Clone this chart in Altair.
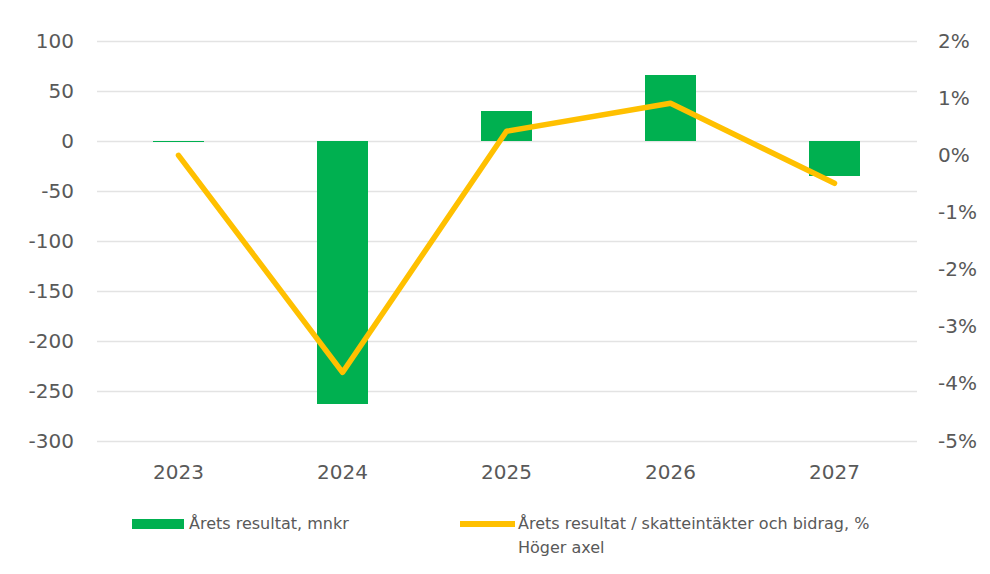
import altair as alt
import pandas as pd

years = ["2023", "2024", "2025", "2026", "2027"]
result_mnkr = [-1, -263, 30, 66, -35]
result_pct = [0.0, -3.8, 0.42, 0.91, -0.49]

bar_name = "Årets resultat, mnkr"
line_name = "Årets resultat / skatteintäkter och bidrag, %"
axis_note = ["Höger axel"]

df = pd.DataFrame({
    "year": years,
    "mnkr": result_mnkr,
    "pct": result_pct,
    "s1": [bar_name] * len(years),
    "s2": [line_name] * len(years),
})
note_df = pd.DataFrame({"t": axis_note})

FONT = "DejaVu Sans"
TXT = "#595959"
GRID = "#e3e3e3"

x = alt.X("year:N", title=None, sort=years,
          scale=alt.Scale(paddingInner=0, paddingOuter=0),
          axis=alt.Axis(labelAngle=0, domain=False, ticks=False, labelPadding=21,
                        labelFontSize=20, labelFont=FONT, labelColor=TXT, grid=False))

bars = alt.Chart(df).mark_bar(size=51, color="#00b050").encode(
    x=x,
    y=alt.Y("mnkr:Q", title=None,
            scale=alt.Scale(domain=[-300, 100], nice=False, zero=False),
            axis=alt.Axis(values=[-300, -250, -200, -150, -100, -50, 0, 50, 100],
                          labelExpr="datum.value + ''", domain=False, ticks=False,
                          labelPadding=23, labelFontSize=20, labelFont=FONT,
                          labelColor=TXT, grid=True, gridColor=GRID, gridWidth=1.5)),
    color=alt.Color("s1:N", scale=alt.Scale(domain=[bar_name], range=["#00b050"]),
                    legend=alt.Legend(title=None, orient="none", legendX=35.5, legendY=457,
                                      padding=0, symbolType="M-1,-0.19H1V0.19H-1Z",
                                      symbolSize=2704, symbolStrokeWidth=0,
                                      labelFont=FONT, labelFontSize=16, labelColor=TXT,
                                      labelOffset=5, labelLimit=0)),
)

line = alt.Chart(df).mark_line(color="#ffc000", strokeWidth=5.5, strokeCap="round",
                               strokeJoin="round").encode(
    x=x,
    y=alt.Y("pct:Q", title=None,
            scale=alt.Scale(domain=[-5, 2], nice=False, zero=False),
            axis=alt.Axis(orient="right", values=[-5, -4, -3, -2, -1, 0, 1, 2],
                          labelExpr="datum.value + '%'", domain=False, ticks=False,
                          labelPadding=21, labelFontSize=20, labelFont=FONT,
                          labelColor=TXT, labelAlign="left", grid=False)),
    stroke=alt.Stroke("s2:N", scale=alt.Scale(domain=[line_name], range=["#ffc000"]),
                      legend=alt.Legend(title=None, orient="none", legendX=360.5, legendY=452.5,
                                        padding=0, symbolType="stroke", symbolSize=3025,
                                        symbolStrokeWidth=6,
                                        labelFont=FONT, labelFontSize=16, labelColor=TXT,
                                        labelOffset=0, labelLimit=0)),
)

note = alt.Chart(note_df).mark_text(align="left", baseline="middle", font=FONT,
                                    fontSize=16, color=TXT).encode(
    x=alt.value(421.5), y=alt.value(507), text="t:N")

chart = alt.layer(bars, line, note).resolve_scale(y="independent", color="independent").properties(
    width=820, height=400,
    background="white",
    autosize=alt.AutoSizeParams(type="none"),
    padding={"left": 88.5, "top": 33, "right": 60, "bottom": 120},
).configure_view(stroke=None)

chart.save("out.html", embed_options={"renderer": "svg", "actions": False})
